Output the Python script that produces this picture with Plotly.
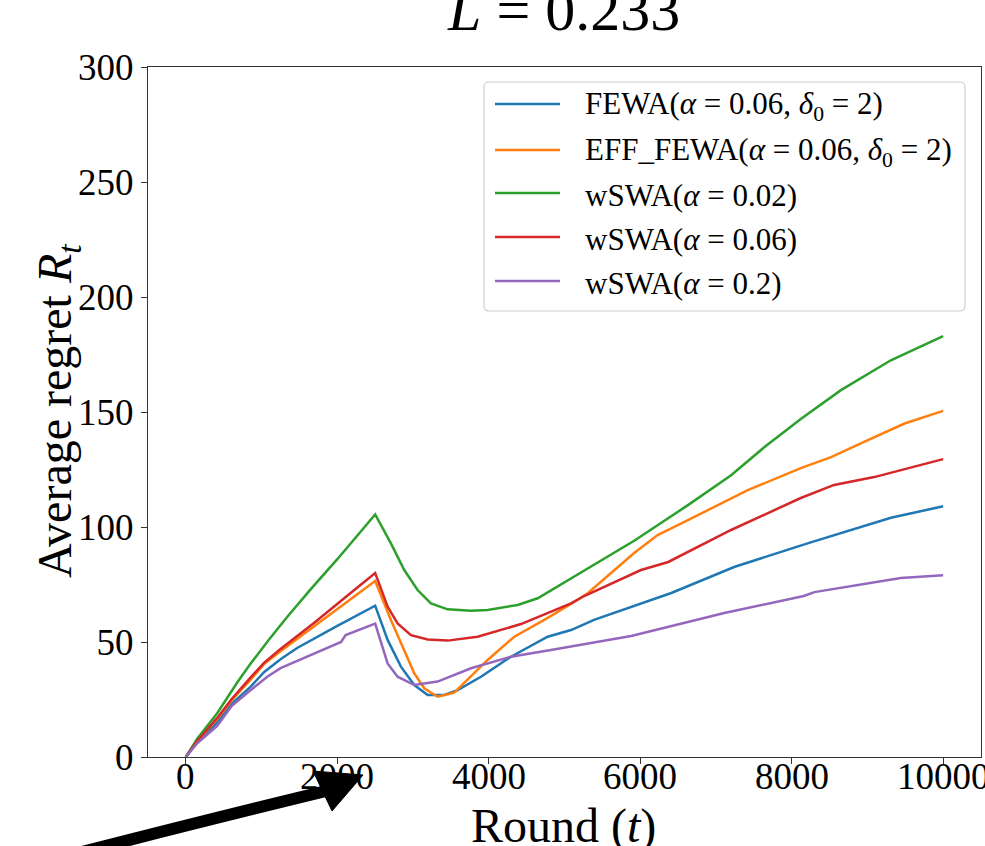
import plotly.graph_objects as go

# ---- data: average regret R_t against round t ----
names = [
    "FEWA(<i>α</i> = 0.06, <i>δ</i><sub>0</sub> = 2)",
    "EFF_FEWA(<i>α</i> = 0.06, <i>δ</i><sub>0</sub> = 2)",
    "wSWA(<i>α</i> = 0.02)",
    "wSWA(<i>α</i> = 0.06)",
    "wSWA(<i>α</i> = 0.2)",
]
colors = ["#1f77b4", "#ff7f0e", "#2ca02c", "#d62728", "#9467bd"]

fewa_t = [0, 150, 414, 600, 853, 1035, 1250, 1475, 2000, 2500, 2664, 2840, 3016, 3193,
          3413, 3589, 3897, 4293, 4778, 5086, 5390, 5920, 6410, 7240, 8220, 9310, 10000]
fewa_r = [0, 6.5, 15, 23, 30.5, 37, 42.5, 47.5, 57, 65.8, 50.9, 39.3, 31.3, 27,
          27, 29.1, 34.9, 43.6, 52.3, 55.2, 59.6, 65.7, 71.3, 82.6, 93, 104, 109]

eff_t = [0, 150, 414, 600, 853, 1035, 1250, 1700, 2220, 2500, 2708, 2884, 3016, 3148,
         3324, 3544, 3765, 3985, 4337, 4733, 5086, 5310, 5920, 6230, 6630, 7420, 8120,
         8520, 8920, 9490, 10000]
eff_r = [0, 7, 16.5, 24.5, 33.5, 40.5, 46, 57, 70, 76.5, 59.6, 46.5, 36.4, 29.9,
         26.2, 28, 34.9, 42.2, 52.3, 59.6, 66.5, 71.3, 88.7, 96.5, 103, 116, 125.6,
         130.4, 136.5, 145, 150.5]

sw02_t = [0, 150, 414, 680, 853, 1096, 1340, 1650, 2000, 2500, 2708, 2884, 3060, 3236,
          3457, 3765, 3985, 4382, 4646, 5086, 5920, 6630, 7200, 7650, 8120, 8650, 9310,
          10000]
sw02_r = [0, 8, 19, 32.5, 40.5, 51, 61, 73, 86, 105.5, 92.9, 81.3, 72.6, 66.8,
          64.2, 63.6, 63.9, 66.1, 69, 77.7, 94, 109.5, 122.5, 135, 147, 159.5, 172.5,
          183]

sw06_t = [0, 150, 414, 600, 853, 1035, 1250, 1700, 2220, 2500, 2664, 2796, 2972, 3193,
          3457, 3853, 4425, 5086, 5260, 6010, 6370, 7200, 8120, 8560, 9090, 10000]
sw06_r = [0, 7, 17, 25, 34.5, 41, 47, 58.5, 72.5, 80, 65.4, 58.1, 53, 51.1,
          50.6, 52.3, 57.8, 66.8, 70, 81.3, 84.8, 98.7, 112.6, 118.3, 121.7, 129.5]

sw2_t = [0, 150, 414, 600, 853, 1080, 1250, 1650, 2050, 2110, 2500, 2664, 2796, 3016,
         3324, 3765, 4293, 4820, 5086, 5880, 7110, 8160, 8300, 9440, 10000]
sw2_r = [0, 6, 13.5, 22, 29, 35, 38.6, 44.3, 50, 53, 58, 40.7, 34.9, 31.3,
         32.8, 38.6, 43.6, 46.5, 48, 52.6, 62.6, 70, 71.7, 77.8, 79]

series_t = [fewa_t, eff_t, sw02_t, sw06_t, sw2_t]
series_r = [fewa_r, eff_r, sw02_r, sw06_r, sw2_r]

x_ticks = [0, 2000, 4000, 6000, 8000, 10000]
x_ticktext = ["0", "2000", "4000", "6000", "8000", "10000"]
y_ticks = [0, 50, 100, 150, 200, 250, 300]
y_ticktext = ["0", "50", "100", "150", "200", "250", "300"]

# ---- layout geometry (pixels) ----
W, H = 985, 846
L, R, T, B = 148, 981, 67, 757
FONT = "Liberation Serif, Times New Roman, serif"


def px(xp):
    return (xp - L) / (R - L)


def py(yp):
    return (B - yp) / (B - T)


fig = go.Figure()
for t, r, name, c in zip(series_t, series_r, names, colors):
    fig.add_trace(go.Scatter(x=t, y=r, mode="lines", name=name,
                             line=dict(color=c, width=2.5), showlegend=False))

axis_common = dict(
    showgrid=False, zeroline=False, showline=True, linecolor="#333333",
    linewidth=1.2, mirror=True, ticks="outside", ticklen=6, tickwidth=1.2,
    tickcolor="#333333", tickfont=dict(family=FONT, size=37, color="black"),
)
# x tick labels are placed as annotations just under the axis
fig.update_xaxes(range=[-500, 10500], tickvals=x_ticks, showticklabels=False,
                 **axis_common)
fig.update_yaxes(range=[0, 300], tickvals=y_ticks, ticktext=y_ticktext,
                 **axis_common)

shapes = []
annotations = []

for v, txt in zip(x_ticks, x_ticktext):
    annotations.append(dict(xref="x", yref="paper", x=v, y=py(777),
                            xanchor="center", yanchor="middle", showarrow=False,
                            text=txt, font=dict(family=FONT, size=37, color="black")))

# legend box with rounded corners
lx0, lx1, ly0, ly1, rad = 484, 965, 82, 311, 5
rx, ry = rad / (R - L), rad / (B - T)
X0, X1, Y0, Y1 = px(lx0), px(lx1), py(ly1), py(ly0)
path = (f"M {X0+rx},{Y0} L {X1-rx},{Y0} Q {X1},{Y0} {X1},{Y0+ry} "
        f"L {X1},{Y1-ry} Q {X1},{Y1} {X1-rx},{Y1} L {X0+rx},{Y1} "
        f"Q {X0},{Y1} {X0},{Y1-ry} L {X0},{Y0+ry} Q {X0},{Y0} {X0+rx},{Y0} Z")
shapes.append(dict(type="path", xref="paper", yref="paper", path=path,
                   line=dict(color="#d0d0d0", width=1.2),
                   fillcolor="rgba(255,255,255,0.85)", layer="above"))

rows = [104, 150, 193, 237, 281]
for yrow, name, c in zip(rows, names, colors):
    shapes.append(dict(type="line", xref="paper", yref="paper",
                       x0=px(495), x1=px(560), y0=py(yrow), y1=py(yrow),
                       line=dict(color=c, width=2.5), layer="above"))
    annotations.append(dict(xref="paper", yref="paper", x=px(583), y=py(yrow + 2),
                            xanchor="left", yanchor="middle", showarrow=False,
                            text=name, font=dict(family=FONT, size=31, color="black")))

# title and axis titles
annotations.append(dict(xref="paper", yref="paper", x=px(563), y=py(10),
                        xanchor="center", yanchor="middle", showarrow=False,
                        text="<i>L</i> = 0.233",
                        font=dict(family=FONT, size=60, color="black")))
annotations.append(dict(xref="paper", yref="paper", x=px(563), y=py(826),
                        xanchor="center", yanchor="middle", showarrow=False,
                        text="Round (<i>t</i>)",
                        font=dict(family=FONT, size=48, color="black")))
annotations.append(dict(xref="paper", yref="paper", x=px(58), y=py(411),
                        xanchor="center", yanchor="middle", showarrow=False,
                        textangle=-90, text="Average regret <i>R<sub>t</sub></i>",
                        font=dict(family=FONT, size=48, color="black")))

# black pointer arrow below the axis
shapes.append(dict(type="path", xref="paper", yref="paper",
                   path=f"M {px(82)},{py(852)} Q {px(215)},{py(818)} {px(326)},{py(791)}",
                   line=dict(color="black", width=12), layer="above"))
shapes.append(dict(type="path", xref="paper", yref="paper",
                   path=(f"M {px(363)},{py(775)} L {px(313)},{py(771)} "
                         f"L {px(332)},{py(811)} Z"),
                   line=dict(color="black", width=1), fillcolor="black", layer="above"))

fig.update_layout(
    width=W, height=H, autosize=False,
    margin=dict(l=L, r=W - R, t=T, b=H - B, pad=0),
    paper_bgcolor="white", plot_bgcolor="white",
    showlegend=False, shapes=shapes, annotations=annotations,
    font=dict(family=FONT, color="black"),
)

fig.write_html("out.html")
